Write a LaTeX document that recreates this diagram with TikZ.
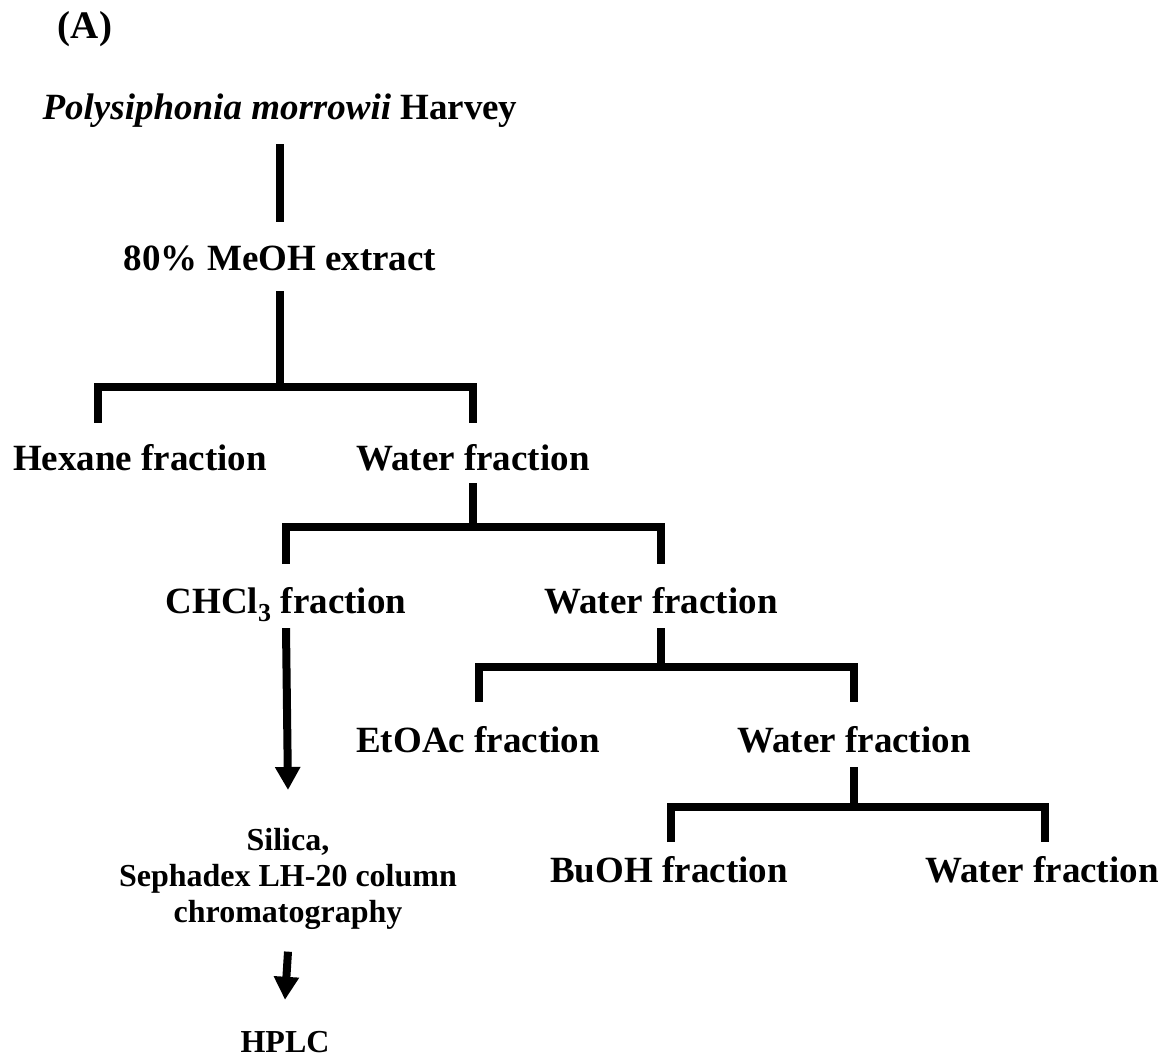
\documentclass[tikz,border=0pt]{standalone}
\usepackage{fontspec}
\setmainfont{Liberation Serif}
\usetikzlibrary{arrows.meta}
\begin{document}
\begin{tikzpicture}[x=1pt,y=-1pt,
  lbl/.style={inner sep=0pt, anchor=base, font=\fontsize{37}{44}\selectfont\bfseries, text height=25pt, text depth=0pt},
  hplcstyle/.style={inner sep=0pt, anchor=base, font=\fontsize{32}{36}\selectfont\bfseries, text height=22pt, text depth=0pt},
  small/.style={inner sep=0pt, font=\fontsize{32}{36}\selectfont\bfseries, align=center},
  conn/.style={line width=7.5pt},
  bar/.style={line width=7.5pt, line join=miter},
  arr/.style={line width=8pt, -{Triangle[length=23pt,width=24pt]}}]
\useasboundingbox (0,0) rectangle (1171,1059);
% nodes
\node[lbl, font=\fontsize{39}{46}\selectfont\bfseries] (A) at (85,39) {(A)};
\node[lbl] (title) at (280,120) {\textit{Polysiphonia morrowii} Harvey};
\node[lbl] (meoh) at (280,271) {80\% MeOH extract};
\node[lbl] (hex) at (140,471) {Hexane fraction};
\node[lbl] (w1) at (473,471) {Water fraction};
\node[lbl] (chcl) at (286,613) {CHCl\textsubscript{3} fraction};
\node[lbl] (w2) at (661,613) {Water fraction};
\node[lbl] (etoac) at (478,752) {EtOAc fraction};
\node[lbl] (w3) at (854,752) {Water fraction};
\node[lbl] (buoh) at (669,882) {BuOH fraction};
\node[lbl] (w4) at (1042,882) {Water fraction};
\node[small, anchor=north] (col) at (288,828) {Silica,\\Sephadex LH-20 column\\chromatography};
\node[hplcstyle] (hplc) at (285,1052) {HPLC};
% junctions and bracket ends
\coordinate (j1) at (280,387);
\coordinate (hexv) at (98,423);
\coordinate (w1v) at (473,423);
\coordinate (j2) at (473,527);
\coordinate (chv) at (286,564);
\coordinate (w2v) at (661,564);
\coordinate (j3) at (661,667);
\coordinate (etv) at (479,702);
\coordinate (w3v) at (854,702);
\coordinate (j4) at (854,807);
\coordinate (buv) at (671,842);
\coordinate (w4v) at (1045,842);
% connectors
\draw[conn] ([yshift=-24pt]title.south) -- ([yshift=24pt]meoh.north);
\draw[conn] ([yshift=-20pt]meoh.south) -- (j1);
\draw[bar] (hexv) |- (j1) -| (w1v);
\draw[conn] ([yshift=-12pt]w1.south) -- (j2);
\draw[bar] (chv) |- (j2) -| (w2v);
\draw[conn] ([yshift=-15pt]w2.south) -- (j3);
\draw[bar] (etv) |- (j3) -| (w3v);
\draw[conn] ([yshift=-15pt]w3.south) -- (j4);
\draw[bar] (buv) |- (j4) -| (w4v);
\draw[arr] ([yshift=-15pt]chcl.south) -- ([yshift=38pt]col.north);
\draw[arr] ([yshift=-22pt]col.south) -- ([yshift=30pt]hplc.north);
\end{tikzpicture}
\end{document}
